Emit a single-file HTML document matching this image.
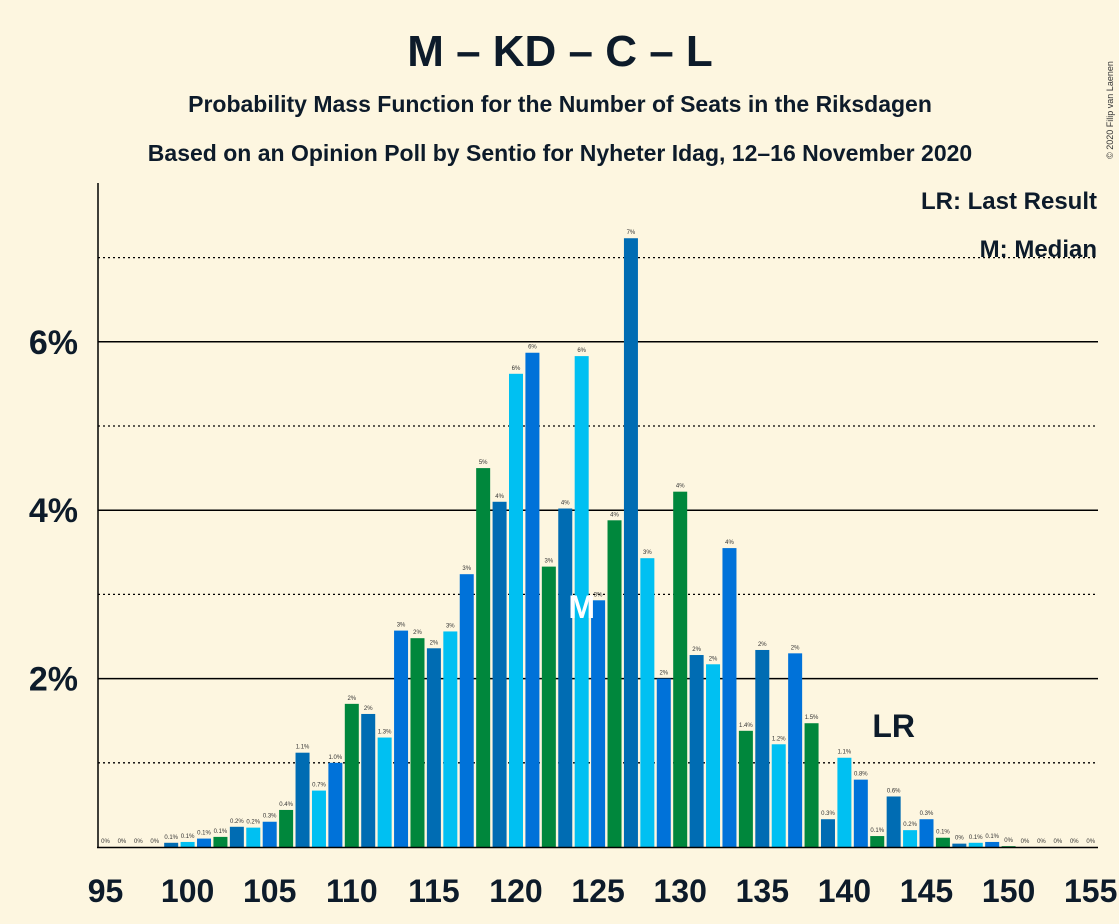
<!DOCTYPE html>
<html><head><meta charset="utf-8"><style>
body{margin:0;background:#fdf6e0;font-family:"Liberation Sans",sans-serif;}
svg{display:block}
</style></head><body>
<svg id="c" width="1119" height="924">
<rect width="1119" height="924" fill="#fdf6e0"/>
<text x="560" y="66" text-anchor="middle" font-size="44" font-weight="bold" fill="#0d1b2a">M – KD – C – L</text>
<text x="560" y="112" text-anchor="middle" font-size="23" font-weight="bold" fill="#0d1b2a">Probability Mass Function for the Number of Seats in the Riksdagen</text>
<text x="560" y="161" text-anchor="middle" font-size="23" font-weight="bold" fill="#0d1b2a">Based on an Opinion Poll by Sentio for Nyheter Idag, 12–16 November 2020</text>
<text x="1113" y="110" font-size="9" fill="#333" transform="rotate(-90 1113 110)" text-anchor="middle">© 2020 Filip van Laenen</text>
<text x="1097" y="209" text-anchor="end" font-size="24" font-weight="bold" fill="#0d1b2a">LR: Last Result</text>
<text x="1097" y="257" text-anchor="end" font-size="24" font-weight="bold" fill="#0d1b2a">M: Median</text>
<g id="grid"></g><g id="bars"></g><g id="axis"></g>
</svg>
<script>
const seats=[];for(let s=95;s<=155;s++)seats.push(s);
const probs=[0,0,0,0,0.05,0.06,0.1,0.12,0.24,0.23,0.3,0.44,1.12,0.67,1.0,1.7,1.58,1.3,2.57,2.48,2.36,2.56,3.24,4.5,4.1,5.62,5.87,3.33,4.02,5.83,2.93,3.88,7.23,3.43,2.0,4.22,2.28,2.17,3.55,1.38,2.34,1.22,2.3,1.47,0.33,1.06,0.8,0.13,0.6,0.2,0.33,0.11,0.04,0.05,0.06,0.01,0,0,0,0,0];
const yTicks=[2,4,6];
const yDotted=[1,3,5,7];
const xTicks=[95,100,105,110,115,120,125,130,135,140,145,150,155];
const medianSeat=124, lastResult=143;
const NS='http://www.w3.org/2000/svg';
const X=s=>105.5+(s-95)*16.42, Y=v=>847-v*84.2;
function mk(t,a,p){const e=document.createElementNS(NS,t);for(const k in a)e.setAttribute(k,a[k]);p.appendChild(e);return e;}
const g=document.getElementById('grid'),b=document.getElementById('bars'),ax=document.getElementById('axis');
yDotted.forEach(v=>{const l=mk('line',{x1:98,x2:1098,y1:Y(v),y2:Y(v),stroke:'#000','stroke-width':1.3,'stroke-dasharray':'2,3'},g);

});
yTicks.forEach(v=>{const l=mk('line',{x1:98,x2:1098,y1:Y(v),y2:Y(v),stroke:'#000','stroke-width':1.5},g);


const t=mk('text',{x:78,y:Y(v)+12,'text-anchor':'end','font-size':34,'font-weight':'bold',fill:'#0d1b2a'},ax);t.textContent=v+'%';

});
const cols=['#00c0f2','#0072d9','#00873c','#006cb3'];
seats.forEach((s,i)=>{const v=probs[i];const c=cols[s%4];
const r=mk('rect',{x:X(s)-7,y:Y(v),width:14,height:v*84.2,fill:c},b);


const lab=v>=1.5?Math.round(v)+'%':(v<0.05?'0%':v.toFixed(1)+'%');
const t=mk('text',{x:X(s),y:Y(v)-4,'text-anchor':'middle','font-size':6,fill:'#333'},b);t.textContent=lab;

});
xTicks.forEach(s=>{const t=mk('text',{x:X(s),y:902,'text-anchor':'middle','font-size':32,'font-weight':'bold',fill:'#0d1b2a'},ax);t.textContent=s;

});
const yl=mk('line',{x1:98,x2:98,y1:183,y2:848,stroke:'#000','stroke-width':1.5},ax);


const xl=mk('line',{x1:97,x2:1098,y1:847.5,y2:847.5,stroke:'#000','stroke-width':1.5},ax);


const m=mk('text',{x:X(medianSeat),y:618,'text-anchor':'middle','font-size':32,'font-weight':'bold',fill:'#fff'},ax);m.textContent='M';


const lr=mk('text',{x:X(lastResult),y:737,'text-anchor':'middle','font-size':32,'font-weight':'bold',fill:'#0d1b2a'},ax);lr.textContent='LR';


</script>
</body></html>
